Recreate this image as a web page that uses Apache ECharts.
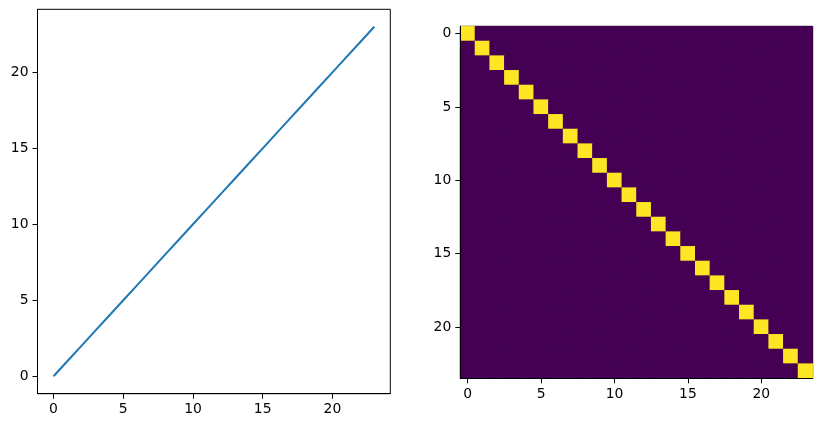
<!DOCTYPE html>
<html>
<head>
<meta charset="utf-8">
<script src="https://cdn.jsdelivr.net/npm/echarts@6/dist/echarts.min.js"></script>
<style>html,body{margin:0;padding:0;background:#fff}#c{width:822px;height:428px}</style>
</head>
<body>
<div id="c"></div>
<script>
// Left panel: line data
var lineX = [0,1,2,3,4,5,6,7,8,9,10,11,12,13,14,15,16,17,18,19,20,21,22,23];
var lineY = [0,1,2,3,4,5,6,7,8,9,10,11,12,13,14,15,16,17,18,19,20,21,22,23];
var lineTicks = [0,5,10,15,20];
// Right panel: image matrix (identity 24x24)
var imgCategories = ['0','1','2','3','4','5','6','7','8','9','10','11','12','13','14','15','16','17','18','19','20','21','22','23'];
var matrix = [
[1,0,0,0,0,0,0,0,0,0,0,0,0,0,0,0,0,0,0,0,0,0,0,0],
[0,1,0,0,0,0,0,0,0,0,0,0,0,0,0,0,0,0,0,0,0,0,0,0],
[0,0,1,0,0,0,0,0,0,0,0,0,0,0,0,0,0,0,0,0,0,0,0,0],
[0,0,0,1,0,0,0,0,0,0,0,0,0,0,0,0,0,0,0,0,0,0,0,0],
[0,0,0,0,1,0,0,0,0,0,0,0,0,0,0,0,0,0,0,0,0,0,0,0],
[0,0,0,0,0,1,0,0,0,0,0,0,0,0,0,0,0,0,0,0,0,0,0,0],
[0,0,0,0,0,0,1,0,0,0,0,0,0,0,0,0,0,0,0,0,0,0,0,0],
[0,0,0,0,0,0,0,1,0,0,0,0,0,0,0,0,0,0,0,0,0,0,0,0],
[0,0,0,0,0,0,0,0,1,0,0,0,0,0,0,0,0,0,0,0,0,0,0,0],
[0,0,0,0,0,0,0,0,0,1,0,0,0,0,0,0,0,0,0,0,0,0,0,0],
[0,0,0,0,0,0,0,0,0,0,1,0,0,0,0,0,0,0,0,0,0,0,0,0],
[0,0,0,0,0,0,0,0,0,0,0,1,0,0,0,0,0,0,0,0,0,0,0,0],
[0,0,0,0,0,0,0,0,0,0,0,0,1,0,0,0,0,0,0,0,0,0,0,0],
[0,0,0,0,0,0,0,0,0,0,0,0,0,1,0,0,0,0,0,0,0,0,0,0],
[0,0,0,0,0,0,0,0,0,0,0,0,0,0,1,0,0,0,0,0,0,0,0,0],
[0,0,0,0,0,0,0,0,0,0,0,0,0,0,0,1,0,0,0,0,0,0,0,0],
[0,0,0,0,0,0,0,0,0,0,0,0,0,0,0,0,1,0,0,0,0,0,0,0],
[0,0,0,0,0,0,0,0,0,0,0,0,0,0,0,0,0,1,0,0,0,0,0,0],
[0,0,0,0,0,0,0,0,0,0,0,0,0,0,0,0,0,0,1,0,0,0,0,0],
[0,0,0,0,0,0,0,0,0,0,0,0,0,0,0,0,0,0,0,1,0,0,0,0],
[0,0,0,0,0,0,0,0,0,0,0,0,0,0,0,0,0,0,0,0,1,0,0,0],
[0,0,0,0,0,0,0,0,0,0,0,0,0,0,0,0,0,0,0,0,0,1,0,0],
[0,0,0,0,0,0,0,0,0,0,0,0,0,0,0,0,0,0,0,0,0,0,1,0],
[0,0,0,0,0,0,0,0,0,0,0,0,0,0,0,0,0,0,0,0,0,0,0,1]
];

var linePairs = lineX.map(function(x, i){ return [x, lineY[i]]; });
var heatData = [];
matrix.forEach(function(row, r){ row.forEach(function(v, c){ heatData.push([c, r, v]); }); });

var font = {fontFamily: 'DejaVu Sans', fontSize: 13.9, color: '#000'};
var axLine = {show: true, onZero: false, lineStyle: {color: '#000', width: 1}};
var tick = {show: true, length: 5, lineStyle: {color: '#000', width: 1}};

var chart = echarts.init(document.getElementById('c'), null, {renderer: 'canvas'});
chart.setOption({
  animation: false,
  grid: [
    {left: 37.5, top: 9.3, width: 352.8, height: 384.4, show: true, borderColor: '#000', borderWidth: 1, backgroundColor: 'transparent'},
    {left: 460.3, top: 26.3, width: 352.4, height: 352, show: true, borderColor: '#000', borderWidth: 1, backgroundColor: '#440154'}
  ],
  xAxis: [
    {gridIndex: 0, type: 'value', min: -1.15, max: 24.15, axisLine: axLine,
     axisTick: Object.assign({customValues: lineTicks}, tick),
     axisLabel: Object.assign({customValues: lineTicks, margin: 9}, font),
     splitLine: {show: false}},
    {gridIndex: 1, type: 'category', data: imgCategories, boundaryGap: true, axisLine: axLine,
     axisTick: Object.assign({interval: 4, alignWithLabel: true}, tick),
     axisLabel: Object.assign({interval: 4, margin: 9}, font),
     splitLine: {show: false}, splitArea: {show: false}, z: 10}
  ],
  yAxis: [
    {gridIndex: 0, type: 'value', min: -1.15, max: 24.15, axisLine: axLine,
     axisTick: Object.assign({customValues: lineTicks}, tick),
     axisLabel: Object.assign({customValues: lineTicks, margin: 9}, font),
     splitLine: {show: false}},
    {gridIndex: 1, type: 'category', data: imgCategories, inverse: true, boundaryGap: true, axisLine: axLine,
     axisTick: Object.assign({interval: 4, alignWithLabel: true}, tick),
     axisLabel: Object.assign({interval: 4, margin: 9}, font),
     splitLine: {show: false}, splitArea: {show: false}, z: 10}
  ],
  visualMap: {show: false, seriesIndex: 1, min: 0, max: 1, inRange: {color: ['#440154', '#fde725']}},
  series: [
    {type: 'line', xAxisIndex: 0, yAxisIndex: 0, data: linePairs, showSymbol: false, symbol: 'none',
     lineStyle: {color: '#1f77b4', width: 2}},
    {type: 'heatmap', xAxisIndex: 1, yAxisIndex: 1, data: heatData, itemStyle: {borderWidth: 0},
     emphasis: {disabled: true}, progressive: 0}
  ]
});
</script>
</body>
</html>
